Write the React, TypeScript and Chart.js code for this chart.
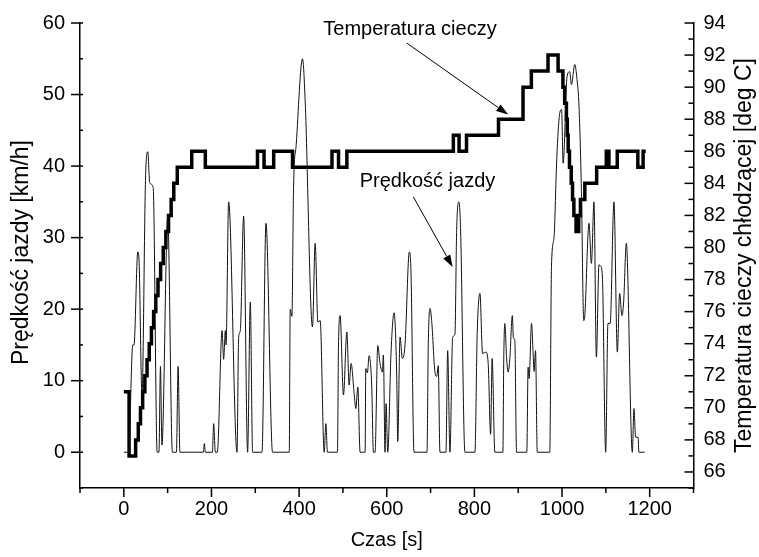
import React, { useEffect, useRef } from 'react';
import { Chart, registerables } from 'chart.js';

Chart.register(...registerables);

// Czas [s] and Prędkość jazdy [km/h]
const speedTime = [
  0, 10.7, 20.5, 23.2, 31.9, 34.6, 41.5, 49.4, 54.7, 59.2, 67, 76.1, 80.2, 83.6, 87, 100.2, 110.9, 120, 123.9, 128,
  181.6, 183.8, 186.1, 202.1, 205, 208.9, 213.4, 224.2, 227.8, 231.7, 233.3, 239.2, 258.3, 262, 265.8, 273.4, 282.5,
  288.6, 293.9, 315.3, 324.4, 339.4, 377.5, 379.7, 383.6, 387.3, 393.4, 407.8, 413.9, 430.5, 436.7, 442.8, 448.1,
  457.2, 461.1, 464.7, 487.5, 489.8, 493.6, 501.2, 508.9, 514.2, 518.7, 525.6, 529.4, 534, 539.2, 550.6, 552.2,
  555.8, 559.7, 565.8, 569.5, 573.3, 579.5, 584.7, 590, 592.3, 596.1, 598.4, 602.3, 609.8, 616.7, 622.8, 625.1,
  630.3, 635.6, 641.7, 651.5, 655.4, 662.2, 691.8, 694.8, 698.7, 702.5, 710, 713.9, 717.6, 721.4, 735.1, 739, 744.2,
  750.4, 755.6, 759.5, 764.7, 768.6, 778.4, 801.2, 806.4, 812.6, 818.7, 826.2, 831.5, 837, 840.5, 846.7, 865, 867,
  869.5, 873.4, 877, 880.9, 886.6, 889, 892.3, 896.2, 919.6, 922.6, 924.9, 930.4, 934, 936.3, 939.5, 943.5, 972,
  975.9, 981.8, 987.3, 990.9, 995, 999, 1002.5, 1011.4, 1017.5, 1021.4, 1029, 1034.2, 1038.8, 1044.2, 1049.5,
  1051.7, 1061.5, 1067, 1072.9, 1078.4, 1084.3, 1088.2, 1092.1, 1099.6, 1104.8, 1109.8, 1118.5, 1126.2, 1131.5,
  1136.7, 1140.6, 1146.7, 1160.4, 1164.1, 1167.9, 1173.6, 1175.4, 1188.4,
];
const speedValue = [
  0, 0, 15, 15, 28, 27, 8, 38, 42, 37.6, 37, 0, 0, 12, 1, 33, 0, 0, 12, 0,
  0, 1.2, 0, 0, 4, 0, 0, 17, 13, 17, 15, 35, 0, 16, 17, 33, 0,
  21, 0, 0, 32, 0, 0, 20, 19, 37, 43, 55, 49, 17.5, 29.2, 18.2, 18.4,
  0, 4, 0, 0, 14.7, 19.1, 8, 16.8, 9.4, 12.4, 8.2, 6.1, 9.1, 0, 0, 11.7,
  11.1, 13.5, 9.1, 0, 0, 14.9, 12.4, 11.2, 13.6, 0, 6.8, 0, 14, 19.5, 10.5, 1.5,
  16.1, 13.1, 15, 28, 25, 0, 0, 15.2, 20.1, 18.4, 11.2, 10.6, 12.1, 0, 0, 14.2, 0,
  16.1, 16.5, 31, 35, 30.9, 0, 0, 16.6, 22.2, 13.8, 14, 12.4, 2.5, 13.1, 0, 0, 13,
  18, 13.3, 11.2, 13.1, 19.1, 16, 15.6, 0, 0, 11.9, 10.3, 18, 13.8, 11.3, 14.2, 0, 0,
  26, 30.1, 40, 44.6, 47.5, 47.9, 40.4, 52.5, 53.2, 51.4, 54.2, 52.1, 48.3, 36.6, 18.4,
  18.9, 32, 26.4, 35, 13.3, 26.2, 26, 24.5, 0, 18, 18, 35, 14, 22.2,
  19.1, 21, 29.2, 0, 6.1, 2.1, 2.1, 0, 0,
];

// Temperatura cieczy chłodzącej [deg C] — each value holds from its time until the next time
const tempTime = [
  0, 12, 27, 33, 38, 43, 48, 53, 58, 63, 68, 73, 78, 84, 90, 96, 102, 108, 114, 122,
  155, 186, 305, 320, 342, 385, 475, 490, 509, 752, 765, 782, 855, 911, 930, 968, 991, 1002, 1006, 1010,
  1012, 1014, 1017, 1021, 1024, 1027, 1032, 1038, 1042, 1052, 1079, 1101, 1107, 1126, 1173, 1185, 1191,
];
const tempValue = [
  71, 67, 68, 69, 70, 71, 72, 73, 74, 75, 76, 77, 78, 79, 80, 81, 82, 83, 84, 85,
  86, 85, 86, 85, 86, 85, 86, 85, 86, 87, 86, 87, 88, 90, 91, 92, 91, 90, 89, 88,
  87, 86, 85, 84, 83, 82, 81, 82, 83, 84, 85, 86, 85, 86, 85, 86, 86,
];

const xTickLabels = [0, 200, 400, 600, 800, 1000, 1200];
const leftTickLabels = [0, 10, 20, 30, 40, 50, 60];
const rightTickLabels = [66, 68, 70, 72, 74, 76, 78, 80, 82, 84, 86, 88, 90, 92, 94];

const FONT_FAMILY = "'Liberation Sans', Arial, sans-serif";
const leftTitle = 'Prędkość jazdy [km/h]';
const rightTitle = 'Temperatura cieczy chłodzącej [deg C]';

// annotations anchored in data units (x: Czas, y: left axis)
const notes = [
  { text: 'Temperatura cieczy', tx: 653, ty: 59.1, ax1: 645.6, ay1: 57.2, ax2: 877, ay2: 47.2 },
  { text: 'Prędkość jazdy', tx: 693, ty: 37.8, ax1: 660.6, ay1: 35.7, ax2: 750.3, ay2: 25.9 },
];

export default function App() {
  const ref = useRef<HTMLCanvasElement>(null);

  useEffect(() => {
    document.body.style.margin = '0';
    const canvas = ref.current!;

    const axisPlugin = {
      id: 'axisTicksAndNotes',
      afterDraw(chart: any) {
        const ctx = chart.ctx as CanvasRenderingContext2D;
        const { x, yL, yR } = chart.scales;
        const a = chart.chartArea;
        ctx.save();
        ctx.strokeStyle = '#000';
        ctx.lineWidth = 1.5;
        for (let v = -5; v <= 60; v += 5) {
          const py = yL.getPixelForValue(v);
          const major = v % 10 === 0;
          ctx.beginPath();
          ctx.moveTo(a.left - (major ? 9 : 0), py);
          ctx.lineTo(a.left + 3, py);
          ctx.stroke();
        }
        for (let v = 65; v <= 94; v += 1) {
          const py = yR.getPixelForValue(v);
          const major = v % 2 === 0;
          ctx.beginPath();
          ctx.moveTo(a.right - (major ? 9 : 5), py);
          ctx.lineTo(a.right, py);
          ctx.stroke();
        }
        for (let v = -100; v <= 1300; v += 100) {
          const px = x.getPixelForValue(v);
          const major = v % 200 === 0;
          ctx.beginPath();
          ctx.moveTo(px, a.bottom);
          ctx.lineTo(px, a.bottom + (major ? 9 : 5));
          ctx.stroke();
        }
        ctx.fillStyle = '#000';
        ctx.font = `20px ${FONT_FAMILY}`;
        ctx.textAlign = 'center';
        ctx.textBaseline = 'middle';
        ctx.lineWidth = 1;
        for (const n of notes) {
          ctx.fillText(n.text, x.getPixelForValue(n.tx), yL.getPixelForValue(n.ty));
          const x1 = x.getPixelForValue(n.ax1);
          const y1 = yL.getPixelForValue(n.ay1);
          const x2 = x.getPixelForValue(n.ax2);
          const y2 = yL.getPixelForValue(n.ay2);
          const ang = Math.atan2(y2 - y1, x2 - x1);
          const hl = 12;
          const hw = 4;
          ctx.beginPath();
          ctx.moveTo(x1, y1);
          ctx.lineTo(x2 - hl * Math.cos(ang), y2 - hl * Math.sin(ang));
          ctx.stroke();
          ctx.beginPath();
          ctx.moveTo(x2, y2);
          ctx.lineTo(x2 - hl * Math.cos(ang) + hw * Math.sin(ang), y2 - hl * Math.sin(ang) - hw * Math.cos(ang));
          ctx.lineTo(x2 - hl * Math.cos(ang) - hw * Math.sin(ang), y2 - hl * Math.sin(ang) + hw * Math.cos(ang));
          ctx.closePath();
          ctx.fill();
        }
        // vertical axis titles, both reading bottom-to-top
        const midY = (a.top + a.bottom) / 2;
        ctx.font = `23px ${FONT_FAMILY}`;
        ctx.save();
        ctx.translate(22, midY - 3);
        ctx.rotate(-Math.PI / 2);
        ctx.fillText(leftTitle, 0, 0);
        ctx.restore();
        ctx.save();
        ctx.translate(745, midY);
        ctx.rotate(-Math.PI / 2);
        ctx.fillText(rightTitle, 0, 0);
        ctx.restore();
        ctx.restore();
      },
    };

    const font = { family: FONT_FAMILY, size: 20 };
    const plain = (v: any) => String(v);
    const noPad = (w: number) => (s: any) => { s.width = w; s.paddingTop = 0; s.paddingBottom = 0; };

    const chart = new Chart(canvas, {
      type: 'line',
      data: {
        datasets: [
          {
            label: 'Prędkość jazdy',
            data: speedTime.map((t, i) => ({ x: t, y: speedValue[i] })),
            yAxisID: 'yL',
            borderColor: '#111',
            borderWidth: 1,
            pointRadius: 0,
            cubicInterpolationMode: 'monotone',
          },
          {
            label: 'Temperatura cieczy',
            data: tempTime.map((t, i) => ({ x: t, y: tempValue[i] })),
            yAxisID: 'yR',
            borderColor: '#000',
            borderWidth: 3.5,
            pointRadius: 0,
            stepped: 'before',
            borderJoinStyle: 'miter',
          },
        ],
      },
      options: {
        animation: false,
        responsive: false,
        layout: { padding: { top: 23, left: 0, right: 0, bottom: 0 } },
        plugins: { legend: { display: false }, tooltip: { enabled: false } },
        scales: {
          x: {
            type: 'linear',
            min: -100,
            max: 1300,
            afterBuildTicks: (s: any) => { s.ticks = xTickLabels.map((v) => ({ value: v })); },
            afterFit: (s: any) => { s.height = 69; },
            grid: { display: false, drawTicks: false },
            border: { display: true, color: '#000', width: 1.5 },
            ticks: { font, color: '#000', padding: 9, maxRotation: 0, autoSkip: false, callback: plain },
            title: { display: true, text: 'Czas [s]', font, color: '#000', padding: { top: 0, bottom: 5 } },
          },
          yL: {
            type: 'linear',
            position: 'left',
            min: -5,
            max: 60,
            afterBuildTicks: (s: any) => { s.ticks = leftTickLabels.map((v) => ({ value: v })); },
            afterFit: noPad(80),
            grid: { display: false, drawTicks: false },
            border: { display: true, color: '#000', width: 1.5 },
            ticks: { font, color: '#000', padding: 15, callback: plain },
          },
          yR: {
            type: 'linear',
            position: 'right',
            min: 65,
            max: 94,
            afterBuildTicks: (s: any) => { s.ticks = rightTickLabels.map((v) => ({ value: v })); },
            afterFit: noPad(65.5),
            grid: { display: false, drawTicks: false },
            border: { display: true, color: '#000', width: 1.5 },
            ticks: { font, color: '#000', padding: 10, callback: plain },
          },
        },
      } as any,
      plugins: [axisPlugin],
    });

    return () => chart.destroy();
  }, []);

  return (
    <div style={{ position: 'absolute', left: 0, top: 0, width: 759, height: 557, background: '#fff' }}>
      <canvas ref={ref} width={759} height={557} style={{ width: 759, height: 557, display: 'block' }} />
    </div>
  );
}
